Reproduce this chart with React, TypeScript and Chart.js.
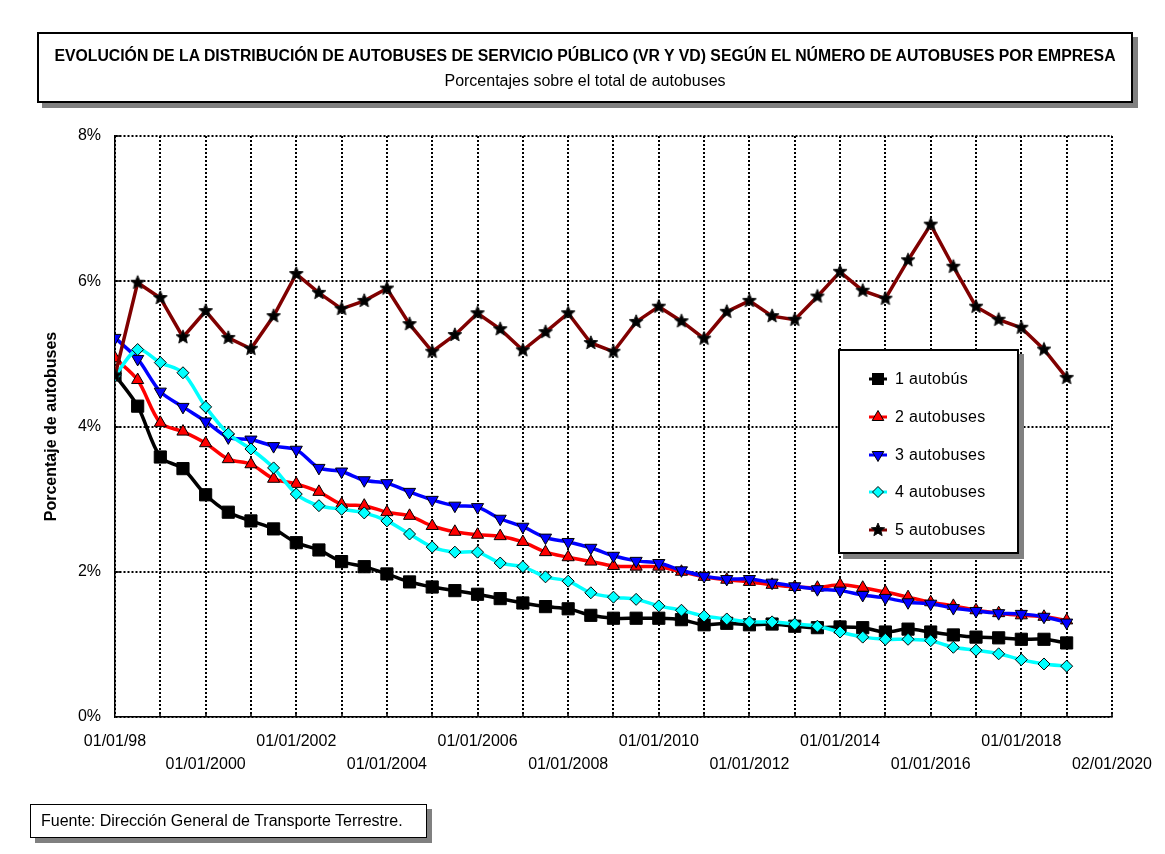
import React, { useEffect, useRef } from 'react';
import { Chart, registerables } from 'chart.js';

Chart.register(...registerables);

const FONT = "'Liberation Sans', Arial, Helvetica, sans-serif";

const periodos = [
  '01/1998', '07/1998', '01/1999', '07/1999', '01/2000', '07/2000', '01/2001', '07/2001',
  '01/2002', '07/2002', '01/2003', '07/2003', '01/2004', '07/2004', '01/2005', '07/2005',
  '01/2006', '07/2006', '01/2007', '07/2007', '01/2008', '07/2008', '01/2009', '07/2009',
  '01/2010', '07/2010', '01/2011', '07/2011', '01/2012', '07/2012', '01/2013', '07/2013',
  '01/2014', '07/2014', '01/2015', '07/2015', '01/2016', '07/2016', '01/2017', '07/2017',
  '01/2018', '07/2018', '01/2019',
];

const unAutobus = [
  4.71, 4.28, 3.58, 3.42, 3.06, 2.82, 2.70, 2.59, 2.40, 2.30,
  2.14, 2.07, 1.97, 1.86, 1.79, 1.74, 1.69, 1.63, 1.57, 1.52,
  1.49, 1.40, 1.36, 1.36, 1.36, 1.34, 1.27, 1.29, 1.27, 1.28,
  1.25, 1.23, 1.24, 1.23, 1.17, 1.21, 1.17, 1.13, 1.10, 1.09,
  1.07, 1.07, 1.02,
];
const dosAutobuses = [
  4.94, 4.64, 4.05, 3.93, 3.77, 3.55, 3.48, 3.28, 3.21, 3.10,
  2.93, 2.91, 2.82, 2.77, 2.63, 2.55, 2.51, 2.49, 2.41, 2.27,
  2.20, 2.14, 2.08, 2.07, 2.07, 2.00, 1.93, 1.89, 1.86, 1.82,
  1.79, 1.78, 1.82, 1.78, 1.72, 1.65, 1.58, 1.53, 1.47, 1.43,
  1.40, 1.38, 1.33,
];
const tresAutobuses = [
  5.22, 4.93, 4.48, 4.27, 4.07, 3.85, 3.82, 3.73, 3.68, 3.43,
  3.38, 3.26, 3.22, 3.10, 2.99, 2.91, 2.89, 2.73, 2.62, 2.47,
  2.41, 2.33, 2.22, 2.15, 2.12, 2.02, 1.94, 1.90, 1.90, 1.85,
  1.80, 1.76, 1.74, 1.68, 1.64, 1.58, 1.56, 1.50, 1.46, 1.43,
  1.42, 1.38, 1.30,
];
const cuatroAutobuses = [
  4.70, 5.06, 4.88, 4.74, 4.27, 3.90, 3.69, 3.43, 3.07, 2.91,
  2.86, 2.81, 2.70, 2.52, 2.34, 2.27, 2.27, 2.12, 2.07, 1.93,
  1.87, 1.71, 1.65, 1.62, 1.53, 1.47, 1.39, 1.35, 1.31, 1.31,
  1.28, 1.25, 1.17, 1.10, 1.07, 1.07, 1.05, 0.96, 0.92, 0.87,
  0.79, 0.73, 0.70,
];
const cincoAutobuses = [
  4.70, 5.98, 5.77, 5.23, 5.59, 5.22, 5.07, 5.52, 6.10, 5.84,
  5.62, 5.73, 5.90, 5.41, 5.03, 5.26, 5.56, 5.34, 5.05, 5.30,
  5.56, 5.15, 5.03, 5.44, 5.65, 5.45, 5.21, 5.58, 5.73, 5.52,
  5.47, 5.79, 6.13, 5.87, 5.76, 6.29, 6.78, 6.20, 5.65, 5.47,
  5.36, 5.06, 4.67,
];

const nombres = ['1 autobús', '2 autobuses', '3 autobuses', '4 autobuses', '5 autobuses'];
const series = [unAutobus, dosAutobuses, tresAutobuses, cuatroAutobuses, cincoAutobuses];

const xLabelYears = [1998, 2000, 2002, 2004, 2006, 2008, 2010, 2012, 2014, 2016, 2018, 2020];
const xLabelTexts = [
  '01/01/98', '01/01/2000', '01/01/2002', '01/01/2004', '01/01/2006', '01/01/2008',
  '01/01/2010', '01/01/2012', '01/01/2014', '01/01/2016', '01/01/2018', '02/01/2020',
];

const TITLE = 'EVOLUCIÓN DE LA DISTRIBUCIÓN DE AUTOBUSES DE SERVICIO PÚBLICO (VR Y VD) SEGÚN EL NÚMERO DE AUTOBUSES POR EMPRESA';
const SUBTITLE = 'Porcentajes sobre el total de autobuses';
const Y_TITLE = 'Porcentaje de autobuses';
const FUENTE = 'Fuente: Dirección General de Transporte Terrestre.';

const lineColors = ['#000000', '#FF0000', '#0000FF', '#00FFFF', '#800000'];
const markerFills = ['#000000', '#FF0000', '#0000FF', '#00FFFF', '#000000'];

function toX(p: string) {
  const [m, y] = p.split('/').map(Number);
  return y + (m - 1) / 12;
}

function starPoints(cx: number, cy: number, r: number) {
  const pts: number[][] = [];
  for (let k = 0; k < 10; k++) {
    const rad = k % 2 === 0 ? r : r * 0.45;
    const a = -Math.PI / 2 + (k * Math.PI) / 5;
    pts.push([cx + rad * Math.cos(a), cy + rad * Math.sin(a)]);
  }
  return pts;
}

function makeStar(r: number) {
  const size = Math.ceil(r * 2 + 3);
  const c = document.createElement('canvas');
  c.width = size;
  c.height = size;
  const g = c.getContext('2d')!;
  const pts = starPoints(size / 2, size / 2, r);
  g.beginPath();
  pts.forEach(([px, py], i) => (i ? g.lineTo(px, py) : g.moveTo(px, py)));
  g.closePath();
  g.fillStyle = '#000';
  g.fill();
  g.strokeStyle = '#111';
  g.lineWidth = 1;
  g.stroke();
  return c;
}

const innerTicks = {
  id: 'innerTicks',
  afterDraw(chart: any) {
    const { ctx, chartArea, scales } = chart;
    const x = scales.x;
    const y = scales.y;
    ctx.save();
    ctx.strokeStyle = '#000';
    ctx.lineWidth = 1.5;
    ctx.beginPath();
    for (let yr = 1999; yr <= 2020; yr++) {
      const px = Math.round(x.getPixelForValue(yr));
      ctx.moveTo(px, chartArea.bottom);
      ctx.lineTo(px, chartArea.bottom - 5);
    }
    for (let v = 2; v <= 8; v += 2) {
      const py = Math.round(y.getPixelForValue(v));
      ctx.moveTo(chartArea.left, py);
      ctx.lineTo(chartArea.left + 6, py);
    }
    ctx.stroke();
    ctx.restore();
  },
};

function LegendMarker({ k }: { k: number }) {
  const c = lineColors[k];
  let shape: any = null;
  if (k === 0) shape = <rect x={4.5} y={4.5} width={11} height={11} fill="#000" stroke="#000" />;
  if (k === 1) shape = <polygon points="10,3.5 15.8,13.5 4.2,13.5" fill="#FF0000" stroke="#000" strokeWidth={1} />;
  if (k === 2) shape = <polygon points="10,16.5 15.8,6.5 4.2,6.5" fill="#0000FF" stroke="#000" strokeWidth={1} />;
  if (k === 3) shape = <polygon points="10,4.5 15.5,10 10,15.5 4.5,10" fill="#00FFFF" stroke="#000" strokeWidth={1} />;
  if (k === 4)
    shape = (
      <polygon
        points={starPoints(10, 10, 7).map((p) => p.join(',')).join(' ')}
        fill="#000"
        stroke="#111"
        strokeWidth={1}
      />
    );
  return (
    <svg width={20} height={20} style={{ position: 'absolute', left: 28, top: 0 }}>
      <line x1={1} y1={10} x2={19} y2={10} stroke={c} strokeWidth={3} />
      {shape}
    </svg>
  );
}

export default function App() {
  const ref = useRef<HTMLCanvasElement>(null);

  useEffect(() => {
    document.body.style.margin = '0';
    const star = makeStar(7.2);
    const styles: any[] = ['rect', 'triangle', 'triangle', 'rectRot', star];
    const radii = [8.6, 7, 7, 6, 7.5];
    const datasets = series.map((vals, k) => ({
      label: nombres[k],
      data: vals.map((v, i) => ({ x: toX(periodos[i]), y: v })),
      borderColor: lineColors[k],
      backgroundColor: markerFills[k],
      borderWidth: 3.5,
      pointStyle: styles[k],
      pointRotation: k === 2 ? 180 : 0,
      pointRadius: radii[k],
      pointBorderColor: '#000',
      pointBorderWidth: 1,
      pointBackgroundColor: markerFills[k],
      tension: k === 4 ? 0 : 0.3,
      order: 5 - k,
      fill: false,
    }));

    const chart = new Chart(ref.current!, {
      type: 'line',
      data: { datasets },
      plugins: [innerTicks],
      options: {
        responsive: false,
        animation: false,
        layout: { padding: { left: 0, right: 47, top: 136, bottom: 77 } },
        plugins: {
          legend: { display: false },
          tooltip: { enabled: false },
          title: { display: false },
        },
        scales: {
          x: {
            type: 'linear',
            min: 1998,
            max: 2020,
            ticks: {
              stepSize: 1,
              autoSkip: false,
              maxRotation: 0,
              minRotation: 0,
              padding: 13,
              color: '#000',
              font: { family: FONT, size: 16, lineHeight: 1.45 },
              callback: (value: any) => {
                const idx = xLabelYears.indexOf(Math.round(Number(value)));
                if (idx < 0) return '';
                return idx % 2 === 0 ? xLabelTexts[idx] : ['', xLabelTexts[idx]];
              },
            },
            grid: { color: '#000', lineWidth: 2, drawTicks: false },
            border: { display: true, color: '#000', width: 1.5, dash: [2, 2] },
            afterFit: (s: any) => {
              s.height = 60;
            },
          },
          y: {
            min: 0,
            max: 8,
            ticks: {
              stepSize: 2,
              padding: 14,
              color: '#000',
              font: { family: FONT, size: 16 },
              callback: (v: any) => `${v}%`,
            },
            grid: { color: '#000', lineWidth: 2, drawTicks: false },
            border: { display: true, color: '#000', width: 1.5, dash: [2, 2] },
            title: {
              display: true,
              text: Y_TITLE,
              color: '#000',
              font: { family: FONT, size: 16, weight: 'bold' },
              padding: { top: 42, bottom: 0 },
            },
            afterFit: (s: any) => {
              s.width = 115;
            },
          },
        },
      } as any,
    });
    return () => chart.destroy();
  }, []);

  const legendRowTops = [0, 1, 2, 3, 4].map((i) => 18 + i * 37.8);

  return (
    <div
      style={{
        position: 'absolute',
        left: 0,
        top: 0,
        width: 1165,
        height: 854,
        background: '#fff',
        fontFamily: FONT,
        color: '#000',
        overflow: 'hidden',
      }}
    >
      <canvas ref={ref} width={1165} height={854} style={{ position: 'absolute', left: 0, top: 0 }} />

      <div
        style={{
          position: 'absolute',
          left: 37,
          top: 32,
          width: 1096,
          height: 71,
          boxSizing: 'border-box',
          border: '2px solid #000',
          background: '#fff',
          boxShadow: '5px 5px 0 #808080',
          textAlign: 'center',
        }}
      >
        <div
          style={{
            position: 'absolute',
            left: 0,
            right: 0,
            top: 13,
            fontSize: 15.8,
            fontWeight: 'bold',
            lineHeight: '18px',
            whiteSpace: 'nowrap',
          }}
        >
          {TITLE}
        </div>
        <div style={{ position: 'absolute', left: 0, right: 0, top: 38, fontSize: 16, lineHeight: '18px' }}>
          {SUBTITLE}
        </div>
      </div>

      <div
        style={{
          position: 'absolute',
          left: 838,
          top: 349,
          width: 181,
          height: 205,
          boxSizing: 'border-box',
          border: '2px solid #000',
          background: '#fff',
          boxShadow: '5px 5px 0 #808080',
        }}
      >
        {nombres.map((n, k) => (
          <div key={n} style={{ position: 'absolute', left: 0, top: legendRowTops[k], width: 170, height: 20 }}>
            <LegendMarker k={k} />
            <div
              style={{
                position: 'absolute',
                left: 55,
                top: 0,
                fontSize: 16,
                lineHeight: '20px',
                letterSpacing: '0.3px',
                whiteSpace: 'nowrap',
              }}
            >
              {n}
            </div>
          </div>
        ))}
      </div>

      <div
        style={{
          position: 'absolute',
          left: 30,
          top: 804,
          width: 397,
          height: 34,
          boxSizing: 'border-box',
          border: '1.5px solid #000',
          background: '#fff',
          boxShadow: '5px 5px 0 #808080',
          fontSize: 16,
          lineHeight: '31px',
          paddingLeft: 10,
          whiteSpace: 'nowrap',
        }}
      >
        {FUENTE}
      </div>
    </div>
  );
}
